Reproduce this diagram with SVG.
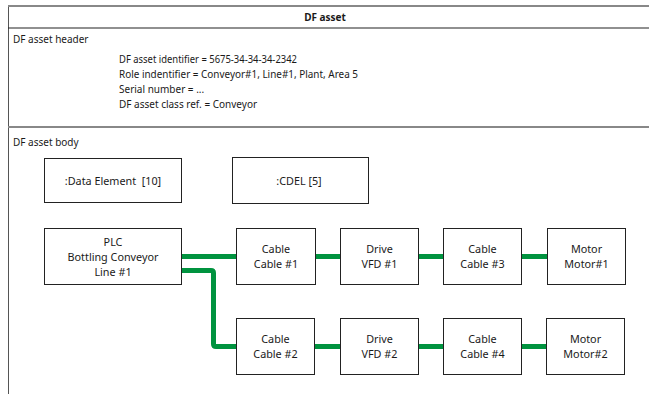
<svg xmlns="http://www.w3.org/2000/svg" width="649" height="394" viewBox="0 0 649 394">
<style>
text{font-family:"Noto Sans","Liberation Sans",sans-serif;font-size:10px;fill:#1a1a1a}
.c{text-anchor:middle}
.n{font-size:10.8px}
.b{font-weight:bold}
.box{fill:#fff;stroke:#222;stroke-width:1}
.wire{fill:none;stroke:#00933f;stroke-width:5;stroke-linejoin:round}
</style>
<rect width="649" height="394" fill="#fff"/>
<g id="frame">
<line x1="8.5" y1="5" x2="8.5" y2="394" stroke="#555" stroke-width="1"/>
<line x1="8" y1="6" x2="649" y2="6" stroke="#888" stroke-width="1.8"/>
<line x1="8" y1="28" x2="649" y2="28" stroke="#222" stroke-width="1.2"/>
<line x1="8" y1="127" x2="649" y2="127" stroke="#888" stroke-width="1.8"/>
<text class="c b" x="325" y="20.5">DF asset</text>
<text x="13" y="43">DF asset header</text>
<text x="119" y="62.5" textLength="178" lengthAdjust="spacingAndGlyphs">DF asset identifier = 5675-34-34-34-2342</text>
<text x="119" y="77.5" textLength="239" lengthAdjust="spacingAndGlyphs">Role indentifier = Conveyor#1, Line#1, Plant, Area 5</text>
<text x="119" y="92.5">Serial number = ...</text>
<text x="119" y="107.5">DF asset class ref. = Conveyor</text>
<text x="13" y="145.5">DF asset body</text>
</g>
<g id="connectors">
<line class="wire" x1="182" y1="256.5" x2="236" y2="256.5"/>
<line class="wire" x1="316" y1="256.5" x2="340" y2="256.5"/>
<line class="wire" x1="419" y1="256.5" x2="444" y2="256.5"/>
<line class="wire" x1="522" y1="256.5" x2="547" y2="256.5"/>
<path class="wire" d="M182 270.5 H211 Q213.5 270.5 213.5 273 V344 Q213.5 346.5 216 346.5 H236"/>
<line class="wire" x1="315" y1="346.5" x2="340" y2="346.5"/>
<line class="wire" x1="419" y1="346.5" x2="444" y2="346.5"/>
<line class="wire" x1="522" y1="346.5" x2="547" y2="346.5"/>
</g>
<g id="dataElement">
<rect class="box" x="44.5" y="158.5" width="137" height="44"/>
<text class="c n" x="113" y="184.5" xml:space="preserve">:Data Element  [10]</text>
</g>
<g id="cdel">
<rect class="box" x="232.5" y="157.5" width="136" height="46"/>
<text class="c n" x="299" y="184.5">:CDEL [5]</text>
</g>
<g id="plc">
<rect class="box" x="44.5" y="228.5" width="137" height="56"/>
<text class="c n" x="113" y="245.5">PLC</text>
<text class="c n" x="113" y="260.5">Bottling Conveyor</text>
<text class="c n" x="113" y="275.5">Line #1</text>
</g>
<g id="cable1">
<rect class="box" x="236.5" y="228.5" width="79" height="56"/>
<text class="c n" x="276" y="252.5">Cable</text>
<text class="c n" x="276" y="267.5">Cable #1</text>
</g>
<g id="drive1">
<rect class="box" x="340.5" y="228.5" width="78" height="56"/>
<text class="c n" x="379.5" y="252.5">Drive</text>
<text class="c n" x="379.5" y="267.5">VFD #1</text>
</g>
<g id="cable3">
<rect class="box" x="443.5" y="228.5" width="78" height="56"/>
<text class="c n" x="482.5" y="252.5">Cable</text>
<text class="c n" x="482.5" y="267.5">Cable #3</text>
</g>
<g id="motor1">
<rect class="box" x="547.5" y="228.5" width="78" height="56"/>
<text class="c n" x="586.5" y="252.5">Motor</text>
<text class="c n" x="586.5" y="267.5">Motor#1</text>
</g>
<g id="cable2">
<rect class="box" x="236.5" y="318.5" width="78" height="56"/>
<text class="c n" x="275.5" y="342.5">Cable</text>
<text class="c n" x="275.5" y="357.5">Cable #2</text>
</g>
<g id="drive2">
<rect class="box" x="340.5" y="318.5" width="78" height="56"/>
<text class="c n" x="379.5" y="342.5">Drive</text>
<text class="c n" x="379.5" y="357.5">VFD #2</text>
</g>
<g id="cable4">
<rect class="box" x="443.5" y="318.5" width="78" height="56"/>
<text class="c n" x="482.5" y="342.5">Cable</text>
<text class="c n" x="482.5" y="357.5">Cable #4</text>
</g>
<g id="motor2">
<rect class="box" x="546.5" y="318.5" width="78" height="56"/>
<text class="c n" x="585.5" y="342.5">Motor</text>
<text class="c n" x="585.5" y="357.5">Motor#2</text>
</g>
</svg>
